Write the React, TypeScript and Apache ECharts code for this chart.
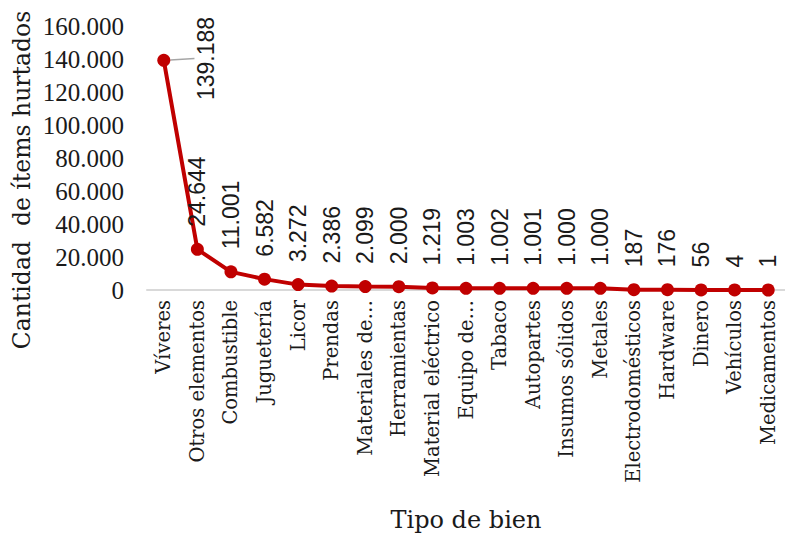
import React, { useEffect, useRef } from "react";
import * as echarts from "echarts";

const categories = [
  "Víveres", "Otros elementos", "Combustible", "Juguetería", "Licor", "Prendas",
  "Materiales de…", "Herramientas", "Material eléctrico", "Equipo de…", "Tabaco",
  "Autopartes", "Insumos sólidos", "Metales", "Electrodomésticos", "Hardware",
  "Dinero", "Vehículos", "Medicamentos",
];
const values = [
  139188, 24644, 11001, 6582, 3272, 2386, 2099, 2000, 1219, 1003, 1002, 1001,
  1000, 1000, 187, 176, 56, 4, 1,
];
const yTicks = { min: 0, max: 160000, interval: 20000 };
const xName = "Tipo de bien";
const yName = "Cantidad  de ítems hurtados";

const fmt = (v: number) => String(Math.round(v)).replace(/\B(?=(\d{3})+(?!\d))/g, ".");

export default function App() {
  const ref = useRef<HTMLDivElement>(null);
  useEffect(() => {
    if (!ref.current) return;
    const chart = echarts.init(ref.current, null, { renderer: "svg" });
    const serif = "DejaVu Serif";
    const data = values.map((v, i) =>
      i === 0
        ? { value: v, labelLine: { show: true, lineStyle: { color: "#a6a6a6", width: 1.5 } } }
        : { value: v }
    );
    chart.setOption({
      animation: false,
      grid: { left: 147, right: 0, top: 26, bottom: 250, containLabel: false },
      xAxis: {
        type: "category",
        data: categories,
        boundaryGap: true,
        name: xName,
        nameLocation: "middle",
        nameGap: 218,
        nameTextStyle: { fontFamily: serif, fontSize: 24, color: "#1a1a1a" },
        axisLine: { lineStyle: { color: "#d9d9d9", width: 2 } },
        axisTick: { show: false },
        axisLabel: {
          rotate: 90,
          interval: 0,
          margin: 10,
          fontFamily: serif,
          fontSize: 19.5,
          color: "#1a1a1a",
        },
      },
      yAxis: {
        type: "value",
        min: yTicks.min,
        max: yTicks.max,
        interval: yTicks.interval,
        axisLine: { show: false },
        axisTick: { show: false },
        splitLine: { show: false },
        axisLabel: {
          margin: 23,
          fontFamily: "Liberation Serif",
          fontSize: 25,
          color: "#1a1a1a",
          formatter: (v: number) => fmt(v),
        },
      },
      graphic: [
        {
          type: "text",
          x: 22,
          y: 180,
          rotation: Math.PI / 2,
          style: {
            text: yName,
            fontFamily: serif,
            fontSize: 23.5,
            fill: "#1a1a1a",
            align: "center",
            verticalAlign: "middle",
          },
        },
      ],
      series: [
        {
          type: "line",
          data,
          symbol: "circle",
          symbolSize: 13,
          lineStyle: { color: "#C00000", width: 4 },
          itemStyle: { color: "#C00000" },
          label: {
            show: true,
            position: "top",
            distance: 16,
            rotate: 90,
            align: "left",
            verticalAlign: "middle",
            fontFamily: "Liberation Sans",
            fontSize: 23,
            color: "#1a1a1a",
            formatter: (p: any) => fmt(p.value),
          },
          labelLine: { show: false },
          labelLayout: (p: any) => (p.dataIndex === 0 ? { x: 206, y: 100 } : {}),
        },
      ],
    });
    return () => chart.dispose();
  }, []);
  return (
    <div
      ref={ref}
      style={{ position: "absolute", left: 0, top: 0, width: 785, height: 540, background: "#fff" }}
    />
  );
}
